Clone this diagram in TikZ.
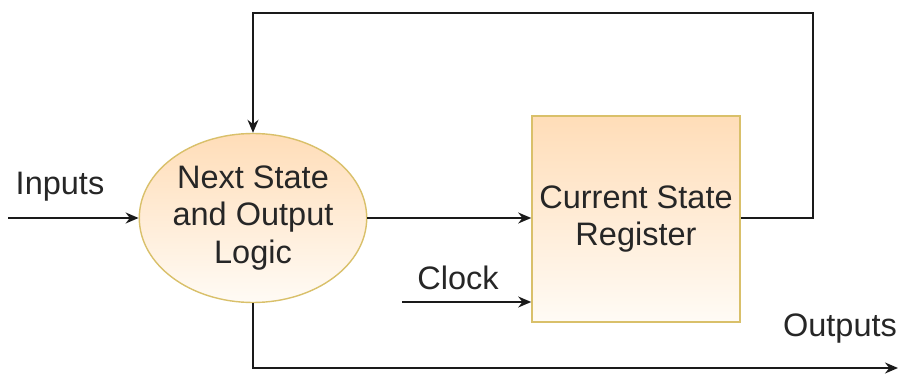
\documentclass[tikz,border=0pt]{standalone}
\usepackage{fontspec}
\setmainfont{Liberation Sans}
\usetikzlibrary{shapes.geometric,arrows.meta}
\definecolor{edgegold}{HTML}{D9C06A}
\definecolor{fillpeach}{HTML}{FFDDB8}
\definecolor{fillwhite}{HTML}{FFFBF5}
\definecolor{wire}{HTML}{1A1A1A}
\tikzset{
  blocktext/.style={font=\fontsize{32.5}{37.5}\selectfont, text=black!85, align=center},
  logicnode/.style={ellipse, draw=edgegold, line width=1.4pt, top color=fillpeach, bottom color=fillwhite,
    minimum width=225pt, minimum height=169pt, inner sep=0pt, blocktext},
  regnode/.style={rectangle, draw=edgegold, line width=1.6pt, top color=fillpeach, bottom color=fillwhite,
    minimum width=208pt, minimum height=206pt, inner sep=0pt, blocktext},
  lbl/.style={font=\fontsize{32.5}{37.5}\selectfont, text=black!85, inner sep=0pt, anchor=base},
  wireline/.style={draw=wire, line width=1.5pt},
  arr/.style={wireline, -{Stealth[length=13pt,width=11pt]}}
}
\begin{document}
\begin{tikzpicture}[x=1pt,y=-1pt]
  \useasboundingbox (0,0) rectangle (906,374);

  % the two blocks
  \node[logicnode] (ns) at (253,218) {Next State\\and Output\\Logic};
  \node[regnode] (csr) at (636,219) {Current State\\Register};

  % free ends of the wires
  \coordinate (inL) at (8,218);
  \coordinate (clk) at (402,302);
  \coordinate (fbR) at (813,13);
  \coordinate (outE) at (898,368);

  % labels
  \node[lbl] (inlbl) at (60,195) {Inputs};
  \node[lbl] (clklbl) at (458,290) {Clock};
  \node[lbl] (outlbl) at (840,337) {Outputs};

  % wires
  \draw[arr] (inL) -- (ns.west);
  \draw[arr] (ns.east) -- (ns.east -| csr.west);
  \draw[arr] (clk) -- (clk -| csr.west);
  \draw[arr] (ns.east -| csr.east) -- (fbR |- ns.east) -- (fbR) -- (fbR -| ns.north) -- (ns.north);
  \draw[arr] (ns.south) -- (ns.south |- outE) -- (outE);
\end{tikzpicture}
\end{document}
